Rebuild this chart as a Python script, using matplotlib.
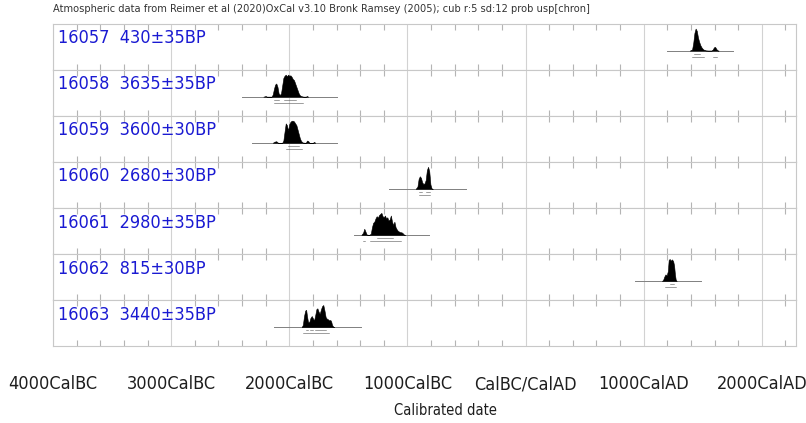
import matplotlib
matplotlib.use("Agg")
from matplotlib import pyplot as plt
from matplotlib import font_manager
from matplotlib.ticker import MultipleLocator, FuncFormatter

title = ("Atmospheric data from Reimer et al (2020)OxCal v3.10 Bronk Ramsey (2005); "
         "cub r:5 sd:12 prob usp[chron]")

labels = ["16057  430\u00b135BP", "16058  3635\u00b135BP", "16059  3600\u00b130BP",
          "16060  2680\u00b130BP", "16061  2980\u00b135BP", "16062  815\u00b130BP",
          "16063  3440\u00b135BP"]

# probability curves, (calendar year, relative probability), BC negative
dist_16057 = [(1390, 0), (1410, 0.05), (1420, 0.35), (1430, 0.8), (1440, 1.0), (1450, 0.9),
              (1460, 0.6), (1470, 0.4), (1480, 0.25), (1490, 0.15), (1500, 0.08), (1510, 0.04),
              (1525, 0.01), (1545, 0), (1575, 0), (1585, 0.05), (1595, 0.15), (1605, 0.17),
              (1615, 0.08), (1625, 0.01), (1635, 0)]
dist_16058 = [(-2220, 0), (-2200, 0.03), (-2190, 0), (-2150, 0), (-2140, 0.1), (-2130, 0.35),
              (-2120, 0.55), (-2110, 0.6), (-2100, 0.45), (-2090, 0.15), (-2080, 0.08),
              (-2070, 0.15), (-2060, 0.5), (-2050, 0.85), (-2040, 0.95), (-2030, 1.0),
              (-2020, 0.92), (-2010, 1.0), (-2000, 0.95), (-1990, 0.97), (-1980, 0.9),
              (-1970, 0.8), (-1960, 0.75), (-1950, 0.6), (-1940, 0.45), (-1930, 0.3),
              (-1920, 0.15), (-1910, 0.06), (-1895, 0.02), (-1880, 0), (-1860, 0),
              (-1850, 0.03), (-1840, 0)]
dist_16059 = [(-2140, 0), (-2125, 0.05), (-2110, 0.07), (-2095, 0), (-2060, 0), (-2050, 0.1),
              (-2040, 0.5), (-2030, 0.88), (-2020, 0.8), (-2010, 0.55), (-2000, 0.85),
              (-1990, 0.95), (-1980, 1.0), (-1970, 1.0), (-1960, 0.97), (-1950, 0.88),
              (-1940, 0.8), (-1930, 0.6), (-1920, 0.4), (-1910, 0.2), (-1900, 0.08),
              (-1885, 0.01), (-1860, 0), (-1850, 0.1), (-1840, 0.08), (-1830, 0),
              (-1800, 0), (-1790, 0.04), (-1780, 0)]
dist_16060 = [(-930, 0), (-915, 0.1), (-905, 0.45), (-895, 0.57), (-885, 0.5), (-875, 0.3),
              (-865, 0.22), (-855, 0.25), (-845, 0.4), (-835, 0.85), (-825, 1.0), (-815, 0.8),
              (-805, 0.2), (-795, 0.02), (-785, 0)]
dist_16061 = [(-1390, 0), (-1375, 0.1), (-1365, 0.28), (-1355, 0.15), (-1345, 0.02), (-1325, 0),
              (-1310, 0.05), (-1300, 0.35), (-1290, 0.55), (-1280, 0.6), (-1270, 0.75),
              (-1260, 0.85), (-1250, 0.78), (-1240, 0.9), (-1230, 0.95), (-1220, 1.0),
              (-1210, 0.85), (-1200, 0.8), (-1190, 0.88), (-1180, 0.75), (-1170, 0.8),
              (-1160, 0.65), (-1150, 0.7), (-1140, 0.88), (-1130, 0.6), (-1120, 0.45),
              (-1110, 0.6), (-1100, 0.35), (-1090, 0.25), (-1080, 0.18), (-1070, 0.15),
              (-1060, 0.12), (-1050, 0.12), (-1040, 0.08), (-1030, 0.02), (-1020, 0)]
dist_16062 = [(1155, 0), (1165, 0.05), (1175, 0.2), (1185, 0.3), (1195, 0.25), (1205, 0.45),
              (1212, 0.95), (1220, 1.0), (1230, 0.92), (1240, 0.98), (1250, 0.9), (1258, 0.7),
              (1265, 0.3), (1272, 0.05), (1280, 0)]
dist_16063 = [(-1895, 0), (-1885, 0.1), (-1875, 0.5), (-1865, 0.75), (-1857, 0.78),
              (-1850, 0.5), (-1842, 0.25), (-1832, 0.2), (-1822, 0.4), (-1810, 0.5),
              (-1800, 0.4), (-1790, 0.3), (-1780, 0.55), (-1770, 0.82), (-1762, 0.85),
              (-1752, 0.7), (-1742, 0.6), (-1732, 0.8), (-1722, 0.95), (-1712, 1.0),
              (-1702, 0.75), (-1692, 0.45), (-1682, 0.38), (-1672, 0.35), (-1662, 0.3),
              (-1652, 0.32), (-1645, 0.25), (-1638, 0.1), (-1628, 0.02), (-1620, 0)]
dists = [dist_16057, dist_16058, dist_16059, dist_16060, dist_16061, dist_16062, dist_16063]

# extent of the grey base line under each curve
spans = [(1195, 1754), (-2398, -1593), (-2313, -1600), (-1153, -500),
         (-1449, -814), (924, 1483), (-2127, -1390)]

# 68.2% and 95.4% ranges
one_sigma = [[(1430, 1475)],
             [(-2127, -2090), (-2042, -1940)],
             [(-2010, -1920)],
             [(-900, -880), (-845, -810)],
             [(-1260, -1120)],
             [(1220, 1260)],
             [(-1860, -1840), (-1825, -1800), (-1780, -1690)]]
two_sigma = [[(1410, 1510), (1590, 1620)],
             [(-2127, -1881)],
             [(-2030, -1890)],
             [(-905, -805)],
             [(-1375, -1355), (-1320, -1050)],
             [(1185, 1270)],
             [(-1880, -1660)]]

x_min, x_max = -4000, 2290


# look for a narrow sans face, the original uses a condensed font
def find_narrow():
    for f in font_manager.fontManager.ttflist:
        fn = f.fname.lower()
        if 'mono' in fn or 'serif' in fn or 'bold' in fn or 'italic' in fn or 'oblique' in fn:
            continue
        if f.style != 'normal' or f.weight not in (400, 'normal', 'regular'):
            continue
        if 'narrow' in fn or 'condensed' in fn or f.stretch in ('condensed', 'semi-condensed'):
            return f.fname
    return None


narrow_file = find_narrow()
if narrow_file:
    fp = font_manager.FontProperties(fname=narrow_file)
    lab_size, tick_size, xl_size = 13, 13, 10.5
else:
    fp = font_manager.FontProperties(family='Liberation Sans')
    lab_size, tick_size, xl_size = 12, 12, 9.5


def date_label(v, pos):
    v = int(round(v))
    if v < 0:
        return "%dCalBC" % -v
    if v == 0:
        return "CalBC/CalAD"
    return "%dCalAD" % v


fig, axes = plt.subplots(len(labels), 1, sharex=True, figsize=(8.06, 4.23), dpi=100)
fig.subplots_adjust(left=0.0658, right=0.9876, top=0.9444, bottom=0.182, hspace=0)

for i, ax in enumerate(axes):
    xs = [p[0] for p in dists[i]]
    ys = [p[1] for p in dists[i]]
    ax.plot(spans[i], [0, 0], color='#808080', lw=0.7, zorder=2)
    ax.fill_between(xs, 0, ys, color='black', lw=0.4, zorder=3)
    for a, b in one_sigma[i]:
        ax.plot([a, b], [-0.14, -0.14], color='#555555', lw=0.4)
    for a, b in two_sigma[i]:
        ax.plot([a, b], [-0.28, -0.28], color='#555555', lw=0.4)
    ax.text(0.007, 0.68, labels[i], transform=ax.transAxes, va='center', ha='left',
            color='#1a1ad2', fontproperties=fp, fontsize=lab_size)
    ax.set_ylim(-0.86, 1.23)
    ax.set_yticks([])
    ax.set_xlim(x_min, x_max)
    ax.xaxis.set_major_locator(MultipleLocator(1000))
    ax.xaxis.set_minor_locator(MultipleLocator(200))
    ax.grid(axis='x', which='major', color='#d2d2d2', lw=0.8, zorder=0)
    ax.tick_params(axis='x', which='both', direction='in', top=True, bottom=True,
                   color='#b4b4b4', width=0.8)
    ax.tick_params(axis='x', which='major', length=0)
    ax.tick_params(axis='x', which='minor', length=4)
    for s in ax.spines.values():
        s.set_color('#c8c8c8')
        s.set_linewidth(0.8)
    if i < len(labels) - 1:
        ax.tick_params(axis='x', labelbottom=False)

axes[-1].xaxis.set_major_formatter(FuncFormatter(date_label))
axes[-1].tick_params(axis='x', which='major', pad=21, labelcolor='#1e1e1e')
for t in axes[-1].get_xticklabels():
    t.set_fontproperties(fp)
    t.set_fontsize(tick_size)

fig.text(53 / 806, 1 - 9 / 423, title, fontsize=7.1, color='#333333', va='center',
         ha='left', family='DejaVu Sans')
fig.text(445 / 806, 1 - 410 / 423, "Calibrated date", color='#1e1e1e',
         va='center', ha='center', fontproperties=fp, fontsize=xl_size)

fig.savefig("out.png", dpi=100)
